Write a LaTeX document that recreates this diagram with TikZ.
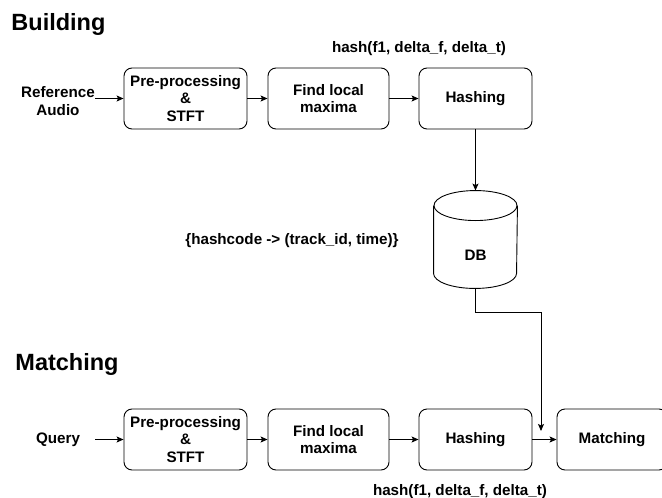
\documentclass[tikz,border=0pt]{standalone}
\usepackage{fontspec}
\setmainfont{Liberation Sans}
\usetikzlibrary{arrows.meta}
\begin{document}
\begin{tikzpicture}[x=1pt,y=-1pt,line width=0.9pt,
  box/.style={draw,rounded corners=8pt,minimum height=61pt,inner sep=0pt,align=center,
    font=\fontsize{15.2}{17.5}\selectfont\bfseries},
  lbl/.style={inner sep=0pt,align=center,font=\fontsize{15.2}{17.5}\selectfont\bfseries},
  title/.style={inner sep=0pt,anchor=west,font=\fontsize{23.5}{28}\selectfont\bfseries},
  arr/.style={-{Stealth[length=7pt,width=6pt,inset=1.5pt]}}]

\clip (0,0) rectangle (662,498);

% building row
\node[title] (tbuild) at (11,24) {Building};
\node[lbl,minimum width=74pt] (ref) at (58,101) {Reference\\Audio};
\node[box,minimum width=123pt] (pre1) at (185.5,98.5) {Pre-processing\\\&\\STFT};
\node[box,minimum width=121pt] (max1) at (328.5,98.5) {Find local\\maxima};
\node[box,minimum width=113pt] (hash1) at (475.5,98.5) {Hashing};
\node[lbl] (hlbl1) at (419,49) {hash(f1, delta\_f, delta\_t)};

% database cylinder
\node[inner sep=0pt,minimum width=83pt,minimum height=97pt] (db) at (475.5,239.5) {};
\draw ([yshift=-15pt]db.north west) -- ([yshift=15pt]db.south west)
  arc[start angle=180,end angle=0,x radius=41.5,y radius=15] -- ([yshift=-15pt]db.north east);
\draw ([yshift=-15pt]db.north) ellipse[x radius=41.5,y radius=15];
\node[lbl] (dbtxt) at (475.5,255) {DB};
\node[lbl] (hclbl) at (292,241) {\{hashcode -> (track\_id, time)\}};

% matching row
\node[title] (tmatch) at (15,364) {Matching};
\node[lbl,minimum width=74pt] (query) at (58,440) {Query};
\node[box,minimum width=123pt] (pre2) at (185.5,439.5) {Pre-processing\\\&\\STFT};
\node[box,minimum width=121pt] (max2) at (328.5,439.5) {Find local\\maxima};
\node[box,minimum width=113pt] (hash2) at (475.5,439.5) {Hashing};
\node[box,minimum width=110pt] (match) at (612,439.5) {Matching};
\node[lbl] (hlbl2) at (460,492) {hash(f1, delta\_f, delta\_t)};

\coordinate (dbin) at (541,431);

\draw[arr] (ref.east |- pre1.west) -- (pre1.west);
\draw[arr] (pre1) -- (max1);
\draw[arr] (max1) -- (hash1);
\draw[arr] (hash1) -- (db.north);

\draw[arr] (query.east |- pre2.west) -- (pre2.west);
\draw[arr] (pre2) -- (max2);
\draw[arr] (max2) -- (hash2);
\draw[arr] (hash2) -- (match);
\draw[arr] (db.south) -- ++(0,24) -| (dbin);

\end{tikzpicture}
\end{document}
